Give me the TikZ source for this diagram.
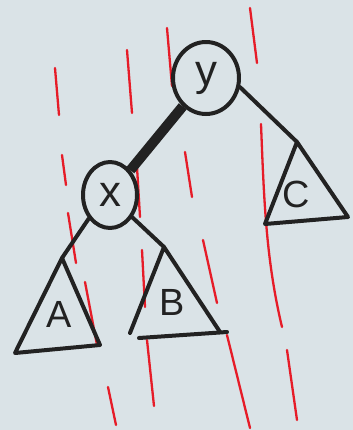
\documentclass[tikz,border=0pt]{standalone}
\usepackage{fontspec}
\setmainfont{Liberation Sans}
\usetikzlibrary{shapes.geometric}
\definecolor{ink}{RGB}{34,34,34}
\definecolor{rain}{RGB}{230,28,40}
\definecolor{paper}{RGB}{218,227,231}
\begin{document}
\begin{tikzpicture}[x=1bp,y=-1bp,
  inkline/.style={draw=ink,line width=4bp,line cap=round,line join=round},
  rainline/.style={draw=rain,line width=2.3bp,line cap=round},
  treenode/.style={ellipse,inkline,inner sep=0pt,font=\fontsize{44}{44}\selectfont,text=ink},
  sublabel/.style={font=\fontsize{38}{38}\selectfont,text=ink}]
\fill[paper] (0,0) rectangle (353,430);
\useasboundingbox (0,0) rectangle (353,430);
% rain
\draw[rainline] (55,68) -- (59,115);
\draw[rainline] (127,50) -- (132,113);
\draw[rainline] (167,28) -- (172,86);
\draw[rainline] (250,8) -- (257,63);
\draw[rainline] (62,155) -- (66,185);
\draw[rainline] (185,152) -- (192,197);
\draw[rainline] (261,124) .. controls (264,200) and (266,260) .. (282,327);
\draw[rainline] (137,167) -- (140,217);
\draw[rainline] (68,213) -- (76,263);
\draw[rainline] (85,282) -- (97,345);
\draw[rainline] (142,250) -- (145,307);
\draw[rainline] (203,240) -- (217,303);
\draw[rainline] (108,387) -- (116,425);
\draw[rainline] (147,340) -- (154,406);
\draw[rainline] (227,335) -- (250,428);
\draw[rainline] (287,350) -- (297,420);
% tree nodes
\node[treenode,minimum width=66bp,minimum height=72bp] (y) at (206,78) {y};
\node[treenode,minimum width=54bp,minimum height=66bp] (x) at (110,195) {x};
% subtrees
\coordinate (Atop) at (62,258);
\coordinate (Aleft) at (15,353);
\coordinate (Aright) at (100,345);
\coordinate (Btop) at (164,247);
\coordinate (Bleft) at (130,333);
\coordinate (Bright) at (220,332);
\coordinate (Bbl) at (139,338);
\coordinate (Bbr) at (227,332);
\coordinate (Ctop) at (297,142);
\coordinate (Cleft) at (265,224);
\coordinate (Cright) at (348,217);
\draw[inkline] (Atop) -- (Aleft) -- (Aright) -- cycle;
\draw[inkline] (Bleft) -- (Btop) -- (Bright);
\draw[inkline] (Bbl) -- (Bbr);
\draw[inkline] (Ctop) -- (Cleft) -- (Cright) -- cycle;
\node[sublabel] (A) at (59,314) {A};
\node[sublabel] (B) at (172,302) {B};
\node[sublabel] (C) at (296,194) {C};
% edges
\draw[inkline,line width=10bp,line cap=butt] (y) -- (x);
\draw[inkline] (y.-15) -- (Ctop);
\draw[inkline] (x.-132) -- (Atop);
\draw[inkline] (x.-45) -- (Btop);
\end{tikzpicture}
\end{document}
